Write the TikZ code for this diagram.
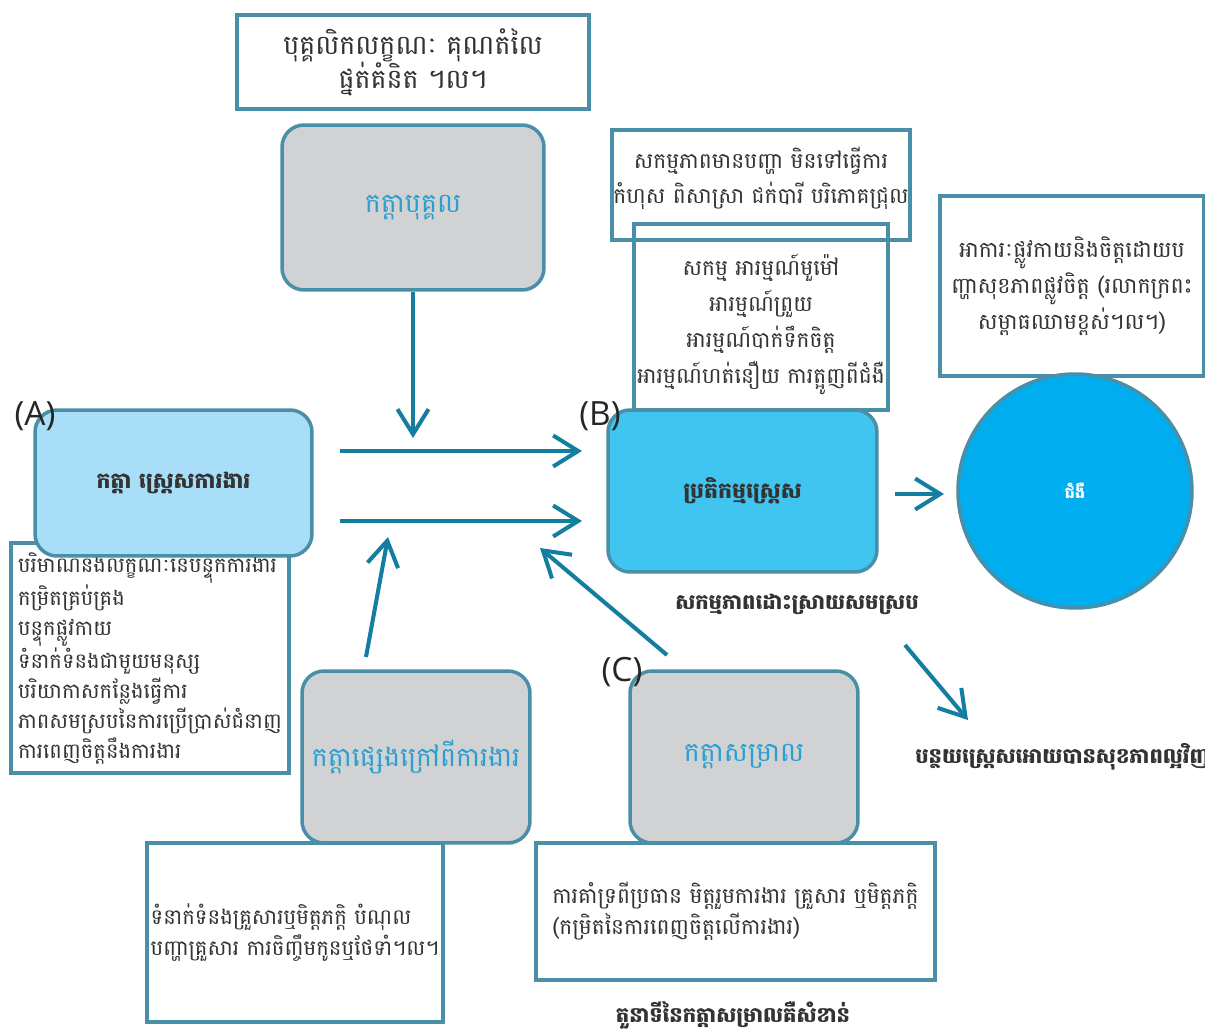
\documentclass[tikz,border=0pt]{standalone}
\usepackage{fontspec}
\newfontfamily\kh[Script=Khmer]{Battambang}
\newfontfamily\lab{Open Sans}
\usetikzlibrary{arrows.meta}
\definecolor{bord}{HTML}{4A8FA8}
\definecolor{arr}{HTML}{137EA0}
\definecolor{greyf}{HTML}{D0D2D3}
\definecolor{lblue}{HTML}{A9DEF9}
\definecolor{mblue}{HTML}{40C4F0}
\definecolor{cblue}{HTML}{00AEEF}
\definecolor{ktext}{HTML}{2A9FD0}
\definecolor{dtext}{HTML}{333333}
\tikzset{
  x=0.02cm, y=-0.02cm,
  plainbox/.style={draw=bord, line width=2pt, inner sep=0pt, font=\kh\fontsize{12}{17}\selectfont, text=dtext},
  txt/.style={inner sep=0pt, text=dtext, align=center},
  greybox/.style={draw=bord, line width=2pt, fill=greyf, rounded corners=0.44cm, font=\kh\fontsize{15.3}{18}\selectfont, text=ktext},
  bluebox/.style={draw=bord, line width=2pt, rounded corners=0.44cm, font=\kh\bfseries\fontsize{12.5}{16}\selectfont, text=dtext},
  lbl/.style={font=\lab\fontsize{19}{22}\selectfont, text=black!85, inner sep=0pt},
  boldlbl/.style={font=\kh\bfseries\fontsize{12}{16}\selectfont, text=dtext, inner sep=0pt},
  arw/.style={draw=arr, line width=2.3pt, -{Straight Barb[length=0.5cm,width=0.62cm]}},
}
\begin{document}
\begin{tikzpicture}
\useasboundingbox[fill=white] (0,0) rectangle (1205,1035);

% top box
\node[plainbox, fill=white, minimum width=7.04cm, minimum height=1.88cm, align=center, font=\kh\fontsize{15.3}{19.5}\selectfont] (top) at (413,62) {បុគ្គលិកលក្ខណៈ គុណតំលៃ\\ផ្នត់គំនិត ។ល។};
% top grey
\node[greybox, minimum width=5.24cm, minimum height=3.3cm] (pers) at (413,207.5) {កត្តាបុគ្គល};

% list box (behind A)
\node[plainbox, fill=white, minimum width=5.56cm, minimum height=4.6cm, align=left] (list) at (150,658) {បរិមាណនិងលក្ខណៈនៃបន្ទុកការងារ\\កម្រិតគ្រប់គ្រង\\បន្ទុកផ្លូវកាយ\\ទំនាក់ទំនងជាមួយមនុស្ស\\បរិយាកាសកន្លែងធ្វើការ\\ភាពសមស្របនៃការប្រើប្រាស់ជំនាញ\\ការពេញចិត្តនឹងការងារ};
% A box
\node[bluebox, fill=lblue, minimum width=5.54cm, minimum height=2.92cm] (A) at (173.5,483) {កត្តា ស្ត្រេសការងារ};
\node[lbl] (Alab) at (35,416) {(A)};

% upper right boxes
\node[plainbox, minimum width=5.96cm, minimum height=2.2cm] (act) at (761,185) {};
\node[txt, font=\kh\fontsize{12.4}{20}\selectfont] (actt) at (761,178) {សកម្មភាពមានបញ្ហា មិនទៅធ្វើការ\\កំហុស ពិសាស្រា ជក់បារី បរិភោគជ្រុល};
\node[plainbox, minimum width=5.08cm, minimum height=3.72cm] (emo) at (761,317) {};
\node[txt, font=\kh\fontsize{12.4}{20.5}\selectfont] (emot) at (761,324) {សកម្ម អារម្មណ៍មួម៉ៅ\\អារម្មណ៍ព្រួយ\\អារម្មណ៍បាក់ទឹកចិត្ត\\អារម្មណ៍ហត់នឿយ ការត្អូញពីជំងឺ};

% B box
\node[bluebox, fill=mblue, minimum width=5.38cm, minimum height=3.24cm] (B) at (742.5,491) {ប្រតិកម្មស្ត្រេស};
\node[lbl] (Blab) at (600,416) {(B)};

% right box
\node[plainbox, minimum width=5.28cm, minimum height=3.6cm, align=center, font=\kh\fontsize{12.6}{20.5}\selectfont] (symp) at (1072,286) {អាការៈផ្លូវកាយនិងចិត្តដោយប\\ញ្ហាសុខភាពផ្លូវចិត្ត (រលាកក្រពះ\\សម្ពាធឈាមខ្ពស់។ល។)};

% circle
\node[circle, draw=bord, line width=2pt, fill=cblue, minimum size=4.68cm, text=white, font=\kh\bfseries\fontsize{9}{11}\selectfont] (ill) at (1075,491) {ជំងឺ};

% labels
\node[boldlbl] (cope) at (797,604) {សកម្មភាពដោះស្រាយសមស្រប};
\node[boldlbl, anchor=west] (reduce) at (915,757) {បន្ថយស្ត្រេសអោយបានសុខភាពល្អវិញ};

% bottom left
\node[greybox, minimum width=4.56cm, minimum height=3.44cm] (other) at (416,757) {កត្តាផ្សេងក្រៅពីការងារ};
\node[plainbox, fill=white, minimum width=5.92cm, minimum height=3.58cm, align=left, font=\kh\fontsize{12.1}{17.5}\selectfont] (fam) at (295,932.5) {ទំនាក់ទំនងគ្រួសារឬមិត្តភក្តិ បំណុល\\បញ្ហាគ្រួសារ ការចិញ្ចឹមកូនឬថែទាំ។ល។};

% C
\node[greybox, minimum width=4.56cm, minimum height=3.44cm] (C) at (744,757) {កត្តាសម្រាល};
\node[lbl] (Clab) at (622,672) {(C)};
\node[plainbox, fill=white, minimum width=7.98cm, minimum height=2.74cm, align=left, font=\kh\fontsize{12.4}{17.5}\selectfont] (sup) at (735.5,911.5) {ការគាំទ្រពីប្រធាន មិត្តរួមការងារ គ្រួសារ ឬមិត្តភក្តិ\\(កម្រិតនៃការពេញចិត្តលើការងារ)};
\node[boldlbl] (role) at (733,1015) {តួនាទីនៃកត្តាសម្រាលគឺសំខាន់};

% arrow coordinates
\coordinate (d1) at (413,438);
\coordinate (h1s) at (340,451);
\coordinate (h1e) at (582,451);
\coordinate (h2s) at (340,521);
\coordinate (h2e) at (582,521);
\coordinate (u1s) at (366,657);
\coordinate (u1e) at (388,537);
\coordinate (c1s) at (667,655);
\coordinate (c1e) at (540,548);
\coordinate (bcs) at (895,494);
\coordinate (bce) at (944,494);
\coordinate (drs) at (905,645);
\coordinate (dre) at (968,720);

\draw[arw] (pers.south) -- (d1);
\draw[arw] (h1s) -- (h1e);
\draw[arw] (h2s) -- (h2e);
\draw[arw] (u1s) -- (u1e);
\draw[arw] (c1s) -- (c1e);
\draw[arw] (bcs) -- (bce);
\draw[arw] (drs) -- (dre);
\end{tikzpicture}
\end{document}
